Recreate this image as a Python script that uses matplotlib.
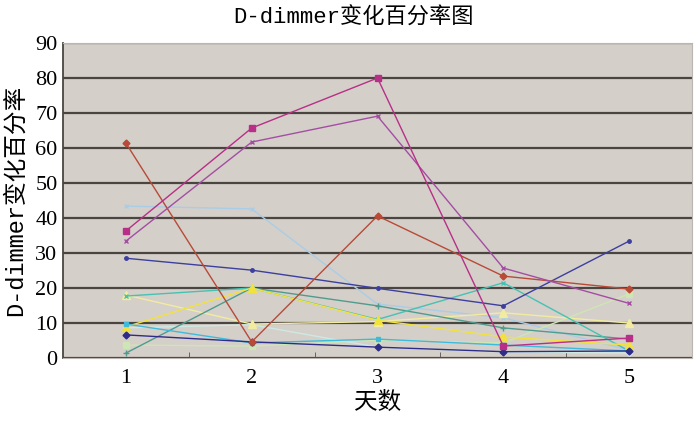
import matplotlib.pyplot as plt
import numpy as np

plt.rcParams['font.family'] = ['Liberation Serif', 'Noto Sans CJK SC']

days = [1, 2, 3, 4, 5]
yticks = [0, 10, 20, 30, 40, 50, 60, 70, 80, 90]

# one list per patient
s_red = [61.4, 4.6, 40.6, 23.4, 19.7]
s_magenta = [36.3, 65.7, 80.0, 3.4, 5.7]
s_purple = [33.4, 61.7, 69.1, 25.7, 15.6]
s_navy = [28.5, 25.1, 19.9, 14.9, 33.4]
s_lightblue = [43.4, 42.6, 15.4, 11.5, 2.2]
s_teal = [17.7, 20.0, 11.0, 21.5, 2.0]
s_darkteal = [1.4, 20.0, 14.9, 8.6, 5.4]
s_yellow = [8.9, 20.0, 10.8, 6.0, 3.7]
s_paleyellow = [18.0, 9.7, 10.4, 12.9, 10.0]
s_cyan = [9.7, 4.3, 5.4, 3.7, 2.0]
s_darkblue = [6.6, 4.6, 3.1, 1.8, 2.0]
s_palegreen = [3.7, 3.4, 5.1, 4.3, 18.3]
s_palecyan = [8.6, 9.5, 3.1, 1.7, 1.4]

series = [
    (s_lightblue, '#a9cde6', 'x', 3.5),
    (s_palecyan, '#cde9e4', 'D', 3),
    (s_palegreen, '#cde6b4', 's', 4.5),
    (s_paleyellow, '#f2eca0', '^', 5.5),
    (s_darkteal, '#4f9c8c', '+', 4),
    (s_teal, '#45c2b2', 'x', 3.5),
    (s_yellow, '#f2e23c', '^', 5.5),
    (s_cyan, '#3ebadb', 's', 3),
    (s_darkblue, '#2e2c86', 'D', 3.5),
    (s_navy, '#3c3f9e', 'o', 2.5),
    (s_red, '#b84a36', 'D', 3.5),
    (s_purple, '#a34ea3', 'x', 3.5),
    (s_magenta, '#b82f88', 's', 4.5),
]

fig = plt.figure(figsize=(7, 4.23), dpi=100)
ax = fig.add_axes([0.09, 0.1537, 0.8986, 0.7446])
ax.set_facecolor('#d5cfca')

for vals, col, mk, ms in series:
    ax.plot(days, vals, color=col, linewidth=1.0, marker=mk, markersize=ms,
            markeredgecolor=col, markerfacecolor=col, zorder=3)

ax.set_xlim(0.5, 5.5)
ax.set_ylim(0, 90)
ax.set_yticks(yticks)
ax.set_xticks(days)
ax.set_xticks([1.5, 2.5, 3.5, 4.5], minor=True)
ax.tick_params(axis='x', which='major', length=0, labelsize=16, pad=8)
ax.tick_params(axis='x', which='minor', length=4, direction='in', color='#555555')
ax.tick_params(axis='y', length=0, labelsize=16, pad=4)
ax.grid(axis='y', color='#4a4541', linewidth=1.6, zorder=1)

for side in ['top', 'right', 'bottom']:
    ax.spines[side].set_color('#bbb6b2')
ax.spines['left'].set_color('#4a4541')
ax.spines['left'].set_linewidth(1.3)

fig.text(0.505, 0.958, 'D-dimmer变化百分率图', fontsize=16, ha='center', va='center',
         family=['Liberation Mono', 'Noto Sans CJK SC'])
ax.set_xlabel('天数', fontsize=17, labelpad=2, family=['Noto Sans CJK SC'])
ax.set_ylabel('D-dimmer变化百分率', fontsize=17, labelpad=6,
              family=['Liberation Mono', 'Noto Sans CJK SC'])

fig.savefig('out.png', dpi=100)
